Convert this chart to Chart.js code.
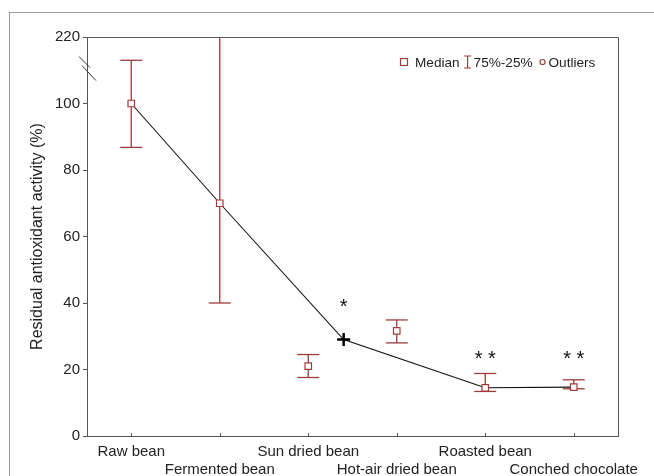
<!DOCTYPE html>
<html>
<head>
<meta charset="utf-8">
<script src="https://cdn.jsdelivr.net/npm/chart.js@4"></script>
<style>
  html, body { margin: 0; padding: 0; background: #fff; }
  #wrap { position: relative; width: 654px; height: 476px; overflow: hidden; }
  #frame { position: absolute; left: 9px; top: 12px; width: 700px; height: 500px; border: 1px solid #9a9a9a; }
  #chart { position: absolute; left: 0; top: 0; }
</style>
</head>
<body>
<div id="wrap">
  <div id="frame"></div>
  <canvas id="chart" width="654" height="476"></canvas>
</div>
<script>
// ---------------------------------------------- data
const categories = ["Raw bean", "Fermented bean", "Sun dried bean", "Hot-air dried bean", "Roasted bean", "Conched chocolate"];
const medians = [100, 70, 21, 31.6, 14.5, 14.7];
const upper = [113, 130, 24.5, 34.9, 18.8, 16.9];
const lower = [86.8, 40, 17.6, 28, 13.4, 14.2];

// line through the medians (the + is the mean of the two drying methods)
const trendX = [0, 1, 2.4, 4, 5];
const trendY = [100, 70, 29, 14.5, 14.7];
const crossX = [2.4];
const crossY = [29];

// significance marks
const starX = [2.4, 4, 5];
const starY = [36.9, 21.5, 21.5];
const starText = ["*", "* *", "* *"];

// broken y axis: top tick stands for 220
const yTicks = [0, 20, 40, 60, 80, 100, 120];
const yTickLabels = ["0", "20", "40", "60", "80", "100", "220"];
const breakValue = 110.5;

const red = "#9e3b3b";
const axisColor = "#555";
const textColor = "#222";
const fontFamily = '"Liberation Sans", Arial, sans-serif';

// ---------------------------------------------- datasets
const whiskerData = [];
const capData = [];
categories.forEach((c, i) => {
    whiskerData.push({ x: i, y: lower[i] }, { x: i, y: upper[i] }, { x: i + 0.5, y: null });
    [lower[i], upper[i]].forEach((v) => {
        if (v <= 120) capData.push({ x: i, y: v });
    });
});

const medianData = categories.map((c, i) => ({ x: i, y: medians[i] }));
const trendData = trendX.map((x, i) => ({ x, y: trendY[i] }));
const crossData = crossX.map((x, i) => ({ x, y: crossY[i] }));

// ---------------------------------------------- extras drawn on top
const decor = {
    id: "decor",
    afterDatasetsDraw(chart) {
        const { ctx, chartArea: ca, scales } = chart;
        const xs = scales.x, ys = scales.y;
        ctx.save();

        // box top / right
        ctx.strokeStyle = axisColor;
        ctx.lineWidth = 1;
        ctx.beginPath();
        ctx.moveTo(Math.round(ca.left) + 0.5, Math.round(ca.top) + 0.5);
        ctx.lineTo(Math.round(ca.right) + 0.5, Math.round(ca.top) + 0.5);
        ctx.lineTo(Math.round(ca.right) + 0.5, Math.round(ca.bottom) + 0.5);
        ctx.stroke();

        // inner x ticks
        ctx.beginPath();
        categories.forEach((c, i) => {
            const px = Math.round(xs.getPixelForValue(i)) + 0.5;
            ctx.moveTo(px, ca.bottom);
            ctx.lineTo(px, ca.bottom - 3);
        });
        ctx.stroke();

        // axis break
        const by = ys.getPixelForValue(breakValue);
        ctx.strokeStyle = "#333";
        ctx.beginPath();
        ctx.moveTo(ca.left - 8, by - 12);
        ctx.lineTo(ca.left + 3, by - 1);
        ctx.moveTo(ca.left - 5, by - 3);
        ctx.lineTo(ca.left + 9, by + 12);
        ctx.stroke();

        // asterisks
        ctx.fillStyle = "#111";
        ctx.font = "20px " + fontFamily;
        ctx.textAlign = "center";
        ctx.textBaseline = "alphabetic";
        starX.forEach((x, i) => {
            ctx.fillText(starText[i], xs.getPixelForValue(x), ys.getPixelForValue(starY[i]));
        });

        // legend
        const ly = ca.top + 25;
        let lx = ca.right - 214;
        ctx.font = "13.6px " + fontFamily;
        ctx.textAlign = "left";
        ctx.textBaseline = "middle";
        ctx.strokeStyle = red;
        ctx.lineWidth = 1.2;
        ctx.fillStyle = "#fff";
        ctx.fillRect(lx - 3.5, ly - 3.5, 7, 7);
        ctx.strokeRect(lx - 3.5, ly - 3.5, 7, 7);
        ctx.fillStyle = textColor;
        ctx.fillText("Median", lx + 11, ly + 1);
        lx += 11 + ctx.measureText("Median").width + 8;
        ctx.beginPath();
        ctx.moveTo(lx - 3.5, ly - 6); ctx.lineTo(lx + 3.5, ly - 6);
        ctx.moveTo(lx, ly - 6); ctx.lineTo(lx, ly + 6);
        ctx.moveTo(lx - 3.5, ly + 6); ctx.lineTo(lx + 3.5, ly + 6);
        ctx.stroke();
        ctx.fillText("75%-25%", lx + 6, ly + 1);
        lx += 6 + ctx.measureText("75%-25%").width + 10;
        ctx.beginPath();
        ctx.arc(lx, ly, 2.5, 0, Math.PI * 2);
        ctx.stroke();
        ctx.fillText("Outliers", lx + 6, ly + 1);

        ctx.restore();
    }
};

// ---------------------------------------------- chart
const myChart = document.getElementById("chart");
new Chart(myChart, {
    type: "scatter",
    data: {
        datasets: [
            {
                data: medianData,
                order: 0,
                pointStyle: "rect",
                pointRadius: 4.6,
                pointBackgroundColor: "#fff",
                pointBorderColor: red,
                pointBorderWidth: 1.2
            },
            {
                data: crossData,
                order: 1,
                pointStyle: "cross",
                pointRadius: 6.5,
                pointBorderColor: "#000",
                pointBorderWidth: 2.5
            },
            {
                data: capData,
                order: 2,
                pointStyle: "line",
                pointRadius: 11,
                pointBorderColor: red,
                pointBorderWidth: 1.3
            },
            {
                type: "line",
                data: whiskerData,
                order: 3,
                borderColor: red,
                borderWidth: 1.3,
                pointRadius: 0,
                spanGaps: false
            },
            {
                type: "line",
                data: trendData,
                order: 4,
                borderColor: "#111",
                borderWidth: 1.1,
                pointRadius: 0,
                tension: 0
            }
        ]
    },
    options: {
        responsive: false,
        animation: false,
        devicePixelRatio: 1,
        layout: { padding: { top: 37, right: 36, left: 0, bottom: 0 } },
        plugins: {
            legend: { display: false },
            tooltip: { enabled: false }
        },
        scales: {
            x: {
                type: "linear",
                min: -0.5,
                max: 5.5,
                afterBuildTicks: (axis) => { axis.ticks = categories.map((c, i) => ({ value: i })); },
                afterFit: (axis) => { axis.height = 40; },
                grid: { display: false, drawTicks: false },
                border: { color: axisColor, width: 1 },
                ticks: {
                    autoSkip: false,
                    maxRotation: 0,
                    padding: 7,
                    color: textColor,
                    font: { size: 15, family: fontFamily },
                    callback: (v) => {
                        const i = Math.round(v);
                        return i % 2 ? ["", categories[i]] : categories[i];
                    }
                }
            },
            y: {
                type: "linear",
                min: 0,
                max: 120,
                afterBuildTicks: (axis) => { axis.ticks = yTicks.map((v) => ({ value: v })); },
                afterFit: (axis) => { axis.width = 87; },
                grid: { drawOnChartArea: false, drawTicks: true, tickLength: 4, color: axisColor },
                border: { color: axisColor, width: 1 },
                ticks: {
                    padding: 3,
                    color: textColor,
                    font: { size: 15, family: fontFamily },
                    callback: (v, i) => yTickLabels[i]
                },
                title: {
                    display: true,
                    text: "Residual antioxidant activity (%)",
                    color: textColor,
                    font: { size: 16, family: fontFamily },
                    padding: { top: 28, bottom: 0 }
                }
            }
        }
    },
    plugins: [decor]
});
</script>
</body>
</html>
